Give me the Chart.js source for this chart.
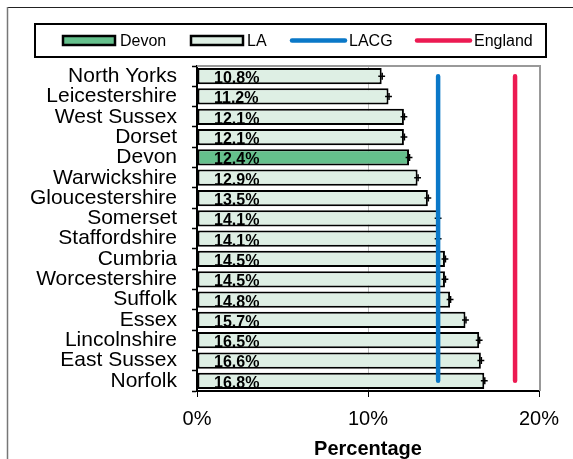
<!DOCTYPE html>
<html><head><meta charset="utf-8">
<script src="https://cdn.jsdelivr.net/npm/chart.js@4.4.1/dist/chart.umd.min.js"></script>
<style>html,body{margin:0;padding:0;background:#fff}#wrap{width:573px;height:459px;position:relative}</style>
</head><body><div id="wrap"><canvas id="c" width="573" height="459"></canvas></div>
<script>
// ---- data ----
const categories = ['North Yorks','Leicestershire','West Sussex','Dorset','Devon','Warwickshire','Gloucestershire','Somerset','Staffordshire','Cumbria','Worcestershire','Suffolk','Essex','Lincolnshire','East Sussex','Norfolk'];
const values = [10.8, 11.2, 12.1, 12.1, 12.4, 12.9, 13.5, 14.1, 14.1, 14.5, 14.5, 14.8, 15.7, 16.5, 16.6, 16.8];
const errors = [0.2, 0.2, 0.2, 0.2, 0.2, 0.2, 0.2, 0.2, 0.2, 0.2, 0.2, 0.2, 0.2, 0.2, 0.2, 0.2];
const lacg = [14.1, 14.1, 14.1, 14.1, 14.1, 14.1, 14.1, 14.1, 14.1, 14.1, 14.1, 14.1, 14.1, 14.1, 14.1, 14.1];
const england = [18.6, 18.6, 18.6, 18.6, 18.6, 18.6, 18.6, 18.6, 18.6, 18.6, 18.6, 18.6, 18.6, 18.6, 18.6, 18.6];
const xTicks = [0, 10, 20];
const highlight = 'Devon';

// ---- styles ----
const FONT = "'Liberation Sans', Arial, Helvetica, sans-serif";
const DEVON_FILL = '#65C08C';
const LA_FILL = '#DEEFE4';
const LACG_COLOR = '#0A78C8';
const ENG_COLOR = '#EC1A52';

const devonData = values.map((v, i) => categories[i] === highlight ? v : null);
const laData = values.map((v, i) => categories[i] === highlight ? null : v);

const barCommon = {
  type: 'bar', indexAxis: 'y', borderColor: '#000', borderWidth: 2, borderSkipped: false,
  grouped: false, categoryPercentage: 1, barPercentage: 0.8, order: 2
};

const framePlugin = {
  id: 'frames',
  beforeDraw(chart) {
    const ctx = chart.ctx;
    ctx.save();
    ctx.fillStyle = '#fff';
    ctx.fillRect(0, 0, chart.width, chart.height);
    ctx.strokeStyle = '#222';
    ctx.lineWidth = 1;
    ctx.beginPath(); ctx.moveTo(7, 7.5); ctx.lineTo(chart.width, 7.5); ctx.stroke();
    ctx.strokeStyle = '#777';
    ctx.lineWidth = 1.5;
    ctx.beginPath(); ctx.moveTo(7.5, 7); ctx.lineTo(7.5, chart.height); ctx.stroke();
    ctx.restore();
  },
  beforeDatasetsDraw(chart) {
    const {ctx, chartArea: a} = chart;
    ctx.save();
    ctx.strokeStyle = '#999';
    ctx.lineWidth = 2;
    ctx.beginPath();
    ctx.moveTo(a.left, a.top); ctx.lineTo(a.right + 1, a.top); ctx.lineTo(a.right + 1, a.bottom);
    ctx.stroke();
    ctx.restore();
  },
  afterDatasetDraw(chart, args) {
    const meta = args.meta;
    if (meta.type !== 'bar') return;
    const ctx = chart.ctx;
    const xs = chart.scales.x;
    ctx.save();
    meta.data.forEach((el, i) => {
      const v = meta._dataset.data[i];
      if (v === null || v === undefined) return;
      const y = el.y;
      // error bar
      const x0 = xs.getPixelForValue(v - errors[i]);
      const x1 = xs.getPixelForValue(v + errors[i]);
      const xc = xs.getPixelForValue(v);
      ctx.strokeStyle = '#000';
      ctx.lineWidth = 1.5;
      ctx.beginPath();
      ctx.moveTo(x0, y); ctx.lineTo(x1, y);
      ctx.moveTo(xc + 0.5, y - 3.5); ctx.lineTo(xc + 0.5, y + 3.5);
      ctx.stroke();
      // value label
      ctx.fillStyle = '#000';
      ctx.font = 'bold 16px ' + FONT;
      ctx.textAlign = 'left';
      ctx.textBaseline = 'middle';
      ctx.fillText(v.toFixed(1) + '%', xs.getPixelForValue(0) + 17, y + 2.5);
    });
    ctx.restore();
  },
  afterDraw(chart) {
    const ctx = chart.ctx;
    ctx.save();
    // legend frame
    ctx.strokeStyle = '#000';
    ctx.lineWidth = 2;
    ctx.strokeRect(35, 24, 511, 33);
    const cy = 40.5;
    const items = chart.data.datasets.map(ds => ds);
    const layout = [
      {sx: 63, sw: 52, tx: 120},
      {sx: 191, sw: 52, tx: 247},
      {sx: 292, sw: 53, tx: 349},
      {sx: 417, sw: 53, tx: 474}
    ];
    items.forEach((ds, k) => {
      const L = layout[k];
      if (ds.type === 'bar') {
        ctx.fillStyle = ds.backgroundColor;
        ctx.fillRect(L.sx, cy - 4.5, L.sw, 9);
        ctx.strokeStyle = '#000';
        ctx.lineWidth = 2.5;
        ctx.strokeRect(L.sx, cy - 4.5, L.sw, 9);
      } else {
        ctx.strokeStyle = ds.borderColor;
        ctx.lineWidth = 4.5;
        ctx.lineCap = 'round';
        ctx.beginPath(); ctx.moveTo(L.sx, cy); ctx.lineTo(L.sx + L.sw, cy); ctx.stroke();
      }
      ctx.fillStyle = '#000';
      ctx.font = '16px ' + FONT;
      ctx.textAlign = 'left';
      ctx.textBaseline = 'middle';
      ctx.fillText(ds.label, L.tx, cy + 1);
    });
    ctx.restore();
  }
};

new Chart(document.getElementById('c'), {
  data: {
    labels: categories,
    datasets: [
      Object.assign({label: 'Devon', data: devonData, backgroundColor: DEVON_FILL}, barCommon),
      Object.assign({label: 'LA', data: laData, backgroundColor: LA_FILL}, barCommon),
      {type: 'line', indexAxis: 'y', label: 'LACG', data: lacg, borderColor: LACG_COLOR, borderWidth: 4.5,
       borderCapStyle: 'round', pointRadius: 0, fill: false, order: 0},
      {type: 'line', indexAxis: 'y', label: 'England', data: england, borderColor: ENG_COLOR, borderWidth: 4.5,
       borderCapStyle: 'round', pointRadius: 0, fill: false, order: 0}
    ]
  },
  options: {
    indexAxis: 'y',
    responsive: false,
    animation: false,
    devicePixelRatio: 1,
    layout: {padding: {top: 66, right: 34, bottom: 0, left: 0}},
    plugins: {legend: {display: false}, tooltip: {enabled: false}},
    scales: {
      x: {
        type: 'linear', position: 'bottom', min: 0, max: 20,
        afterBuildTicks: s => { s.ticks = xTicks.map(v => ({value: v})); },
        afterFit: s => { s.height = 68; },
        ticks: {callback: v => v + '%', color: '#000', font: {size: 20, family: FONT}, padding: 10, maxRotation: 0},
        grid: {color: c => (c.tick && c.tick.value === 10) ? '#c0c0c0' : 'rgba(0,0,0,0)', tickColor: '#000', tickLength: 6, lineWidth: 1},
        border: {color: '#000', width: 2},
        title: {display: true, text: 'Percentage', color: '#000', font: {size: 20, weight: 'bold', family: FONT, lineHeight: 1}, padding: {top: 0, bottom: 0}}
      },
      y: {
        type: 'category', position: 'left',
        afterFit: s => { s.width = 197; },
        ticks: {color: '#000', font: {size: 21, family: FONT, lineHeight: 1}, padding: 15, autoSkip: false},
        grid: {drawOnChartArea: false, offset: true, tickColor: '#000', tickLength: 5, tickWidth: 1.5},
        border: {color: '#000', width: 2}
      }
    }
  },
  plugins: [framePlugin]
});
</script>
</body></html>
